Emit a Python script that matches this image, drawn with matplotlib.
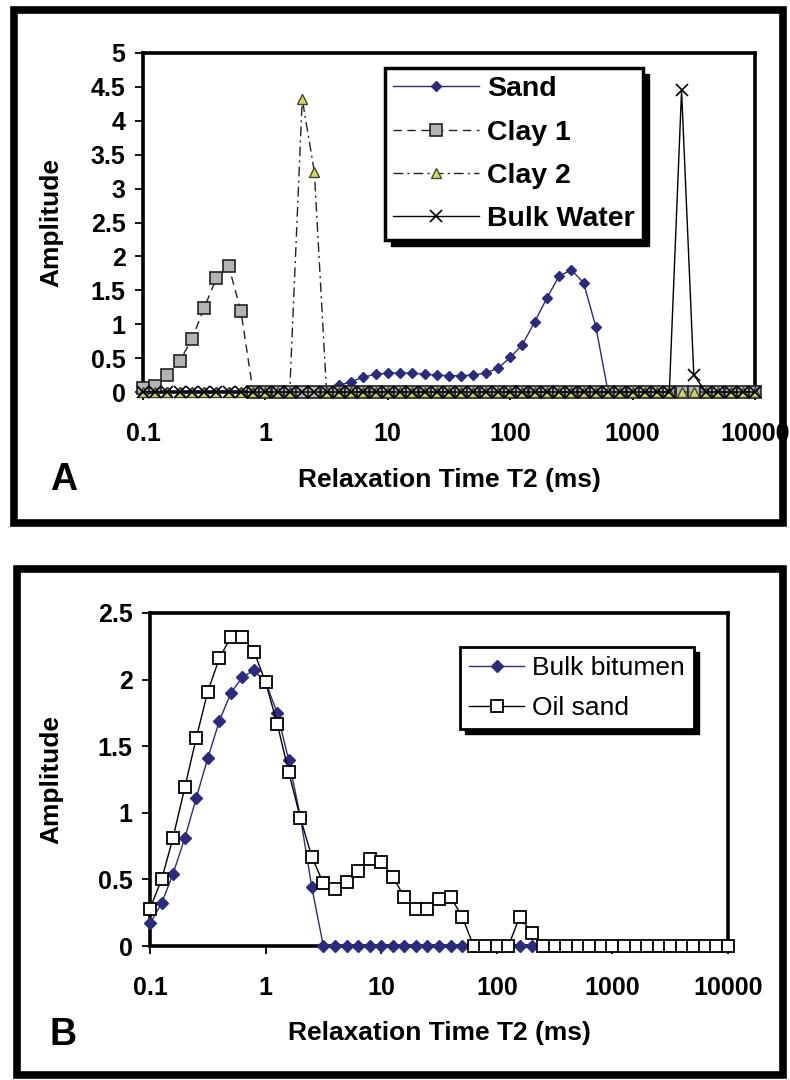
import matplotlib
matplotlib.use('Agg')
import matplotlib.pyplot as plt
from matplotlib.patches import Rectangle
from matplotlib.ticker import FixedLocator, NullLocator
from matplotlib.transforms import IdentityTransform

plt.rcParams['font.family'] = ['Liberation Sans', 'DejaVu Sans']

# ---------------- data ----------------
t2_ms = [0.1, 0.126, 0.158, 0.2, 0.251, 0.316, 0.398, 0.501, 0.631, 0.794,
         1.0, 1.26, 1.58, 2.0, 2.51, 3.16, 3.98, 5.01, 6.31, 7.94,
         10, 12.6, 15.8, 20, 25.1, 31.6, 39.8, 50.1, 63.1, 79.4,
         100, 126, 158, 200, 251, 316, 398, 501, 631, 794,
         1000, 1259, 1585, 1995, 2512, 3162, 3981, 5012, 6310, 7943, 10000]

sand = [0, 0, 0, 0, 0, 0, 0, 0, 0, 0,
        0, 0, 0, 0, 0, 0, 0.10, 0.15, 0.22, 0.26,
        0.28, 0.28, 0.28, 0.26, 0.25, 0.24, 0.24, 0.25, 0.28, 0.35,
        0.51, 0.70, 1.03, 1.39, 1.71, 1.80, 1.61, 0.96, 0, 0,
        0, 0, 0, 0, 0, 0, 0, 0, 0, 0, 0]
clay1 = [0.06, 0.09, 0.25, 0.46, 0.78, 1.24, 1.68, 1.86, 1.19, 0,
         0, 0, 0, 0, 0, 0, 0, 0, 0, 0,
         0, 0, 0, 0, 0, 0, 0, 0, 0, 0,
         0, 0, 0, 0, 0, 0, 0, 0, 0, 0,
         0, 0, 0, 0, 0, 0, 0, 0, 0, 0, 0]
clay2 = [0, 0, 0, 0, 0, 0, 0, 0, 0, 0,
         0, 0, 0, 4.32, 3.25, 0, 0, 0, 0, 0,
         0, 0, 0, 0, 0, 0, 0, 0, 0, 0,
         0, 0, 0, 0, 0, 0, 0, 0, 0, 0,
         0, 0, 0, 0, 0, 0, 0, 0, 0, 0, 0]
bulk_water = [0, 0, 0, 0, 0, 0, 0, 0, 0, 0,
              0, 0, 0, 0, 0, 0, 0, 0, 0, 0,
              0, 0, 0, 0, 0, 0, 0, 0, 0, 0,
              0, 0, 0, 0, 0, 0, 0, 0, 0, 0,
              0, 0, 0, 0, 4.45, 0.25, 0, 0, 0, 0, 0]

bulk_bitumen = [0.17, 0.32, 0.54, 0.81, 1.11, 1.41, 1.69, 1.90, 2.02, 2.07,
                1.98, 1.75, 1.40, 0.97, 0.44, 0, 0, 0, 0, 0,
                0, 0, 0, 0, 0, 0, 0, 0, 0, 0,
                0, 0, 0, 0, 0, 0, 0, 0, 0, 0,
                0, 0, 0, 0, 0, 0, 0, 0, 0, 0, 0]
oil_sand = [0.28, 0.50, 0.81, 1.19, 1.56, 1.91, 2.16, 2.32, 2.32, 2.21,
            1.98, 1.67, 1.31, 0.96, 0.67, 0.47, 0.43, 0.48, 0.56, 0.65,
            0.63, 0.52, 0.37, 0.28, 0.28, 0.35, 0.37, 0.22, 0, 0,
            0, 0, 0.22, 0.10, 0, 0, 0, 0, 0, 0,
            0, 0, 0, 0, 0, 0, 0, 0, 0, 0, 0]

x_ticks = [0.1, 1, 10, 100, 1000, 10000]
x_tick_labels = ['0.1', '1', '10', '100', '1000', '10000']
yA_ticks = [0, 0.5, 1, 1.5, 2, 2.5, 3, 3.5, 4, 4.5, 5]
yA_tick_labels = ['0', '0.5', '1', '1.5', '2', '2.5', '3', '3.5', '4', '4.5', '5']
yB_ticks = [0, 0.5, 1, 1.5, 2, 2.5]
yB_tick_labels = ['0', '0.5', '1', '1.5', '2', '2.5']

x_label = 'Relaxation Time T2 (ms)'
y_label = 'Amplitude'

# ---------------- figure ----------------
W, H = 790, 1080
fig = plt.figure(figsize=(W / 100, H / 100), dpi=100)
fig.patch.set_facecolor('white')


def fx(px):
    return px / W


def fy(py):
    return 1 - py / H


NAVY = '#2c2a7c'


def style_axes(ax, yticks, ylabels, ymax):
    ax.set_xscale('log')
    ax.set_xlim(0.1, 10000)
    ax.set_ylim(0, ymax)
    ax.xaxis.set_major_locator(FixedLocator(x_ticks))
    ax.xaxis.set_minor_locator(NullLocator())
    ax.set_xticks(x_ticks, x_tick_labels, fontweight='bold')
    ax.set_yticks(yticks, ylabels, fontweight='bold')
    for s in ax.spines.values():
        s.set_linewidth(2.6)
        s.set_zorder(2.5)
    ax.tick_params(axis='both', direction='out', length=5.5, width=1.3,
                   labelsize=18, colors='black')
    ax.tick_params(axis='x', pad=16)
    ax.tick_params(axis='y', pad=7)
    ax.set_xlabel(x_label, fontsize=19, fontweight='bold')
    ax.set_ylabel(y_label, fontsize=19, fontweight='bold')


def add_shadow(ax, leg, off=6):
    fig.canvas.draw()
    bb = leg.get_window_extent()
    rect = Rectangle((bb.x0 + off, bb.y0 - off), bb.width, bb.height,
                     transform=IdentityTransform(), facecolor='black',
                     edgecolor='black', zorder=4.9, clip_on=False)
    ax.add_artist(rect)


# ---------------- panel A ----------------
axA = fig.add_axes([fx(143), fy(392), fx(755) - fx(143), fy(53) - fy(392)])
axA.plot(t2_ms, sand, color=NAVY, lw=1.0, marker='D', markersize=5.5,
         markerfacecolor=NAVY, markeredgecolor=NAVY, label='Sand', clip_on=False, zorder=3)
axA.plot(t2_ms, clay1, color='#222222', lw=1.0, ls=(0, (6, 4)), marker='s', markersize=8,
         markerfacecolor='#b3b3b3', markeredgecolor='#222222', markeredgewidth=1.2,
         label='Clay 1', clip_on=False, zorder=3)
axA.plot(t2_ms, clay2, color='#222222', lw=1.0, ls=(0, (7, 3, 1.5, 3)), marker='^', markersize=7.5,
         markerfacecolor='#d2dc4a', markeredgecolor='#444444', markeredgewidth=1.0,
         label='Clay 2', clip_on=False, zorder=3)
axA.plot(t2_ms, bulk_water, color='black', lw=1.0, marker='x', markersize=8,
         markeredgewidth=1.2, label='Bulk Water', clip_on=False, zorder=3)
style_axes(axA, yA_ticks, yA_tick_labels, 5)
axA.xaxis.set_label_coords(0.5, -0.225)
axA.yaxis.set_label_coords(-0.13, 0.5)

legA = axA.legend(loc='upper left', bbox_to_anchor=(0.395, 0.956), borderaxespad=0,
                  prop={'family': ['Liberation Sans'], 'weight': 'bold', 'size': 20.5},
                  handlelength=3.0, handletextpad=0.3, borderpad=0.3, labelspacing=0.6,
                  fancybox=False, edgecolor='black', framealpha=1, numpoints=1)
legA.get_frame().set_linewidth(2.5)

# ---------------- panel B ----------------
axB = fig.add_axes([fx(150), fy(946), fx(728) - fx(150), fy(613) - fy(946)])
axB.plot(t2_ms, bulk_bitumen, color=NAVY, lw=1.0, marker='D', markersize=6,
         markerfacecolor=NAVY, markeredgecolor=NAVY, label='Bulk bitumen', clip_on=False, zorder=3)
axB.plot(t2_ms, oil_sand, color='black', lw=1.0, marker='s', markersize=9,
         markerfacecolor='white', markeredgecolor='black', markeredgewidth=1.3,
         label='Oil sand', clip_on=False, zorder=3)
style_axes(axB, yB_ticks, yB_tick_labels, 2.5)
axB.xaxis.set_label_coords(0.5, -0.225)
axB.yaxis.set_label_coords(-0.15, 0.5)

legB = axB.legend(loc='upper left', bbox_to_anchor=(0.536, 0.898), borderaxespad=0,
                  prop={'family': ['Liberation Sans'], 'size': 19},
                  handlelength=2.1, handletextpad=0.3, borderpad=0.35, labelspacing=0.6,
                  fancybox=False, edgecolor='black', framealpha=1, numpoints=1)
legB.get_frame().set_linewidth(2.0)

# panel letters
fig.text(fx(50), fy(490), 'A', fontsize=27, fontweight='bold', ha='left', va='baseline')
fig.text(fx(50), fy(1045), 'B', fontsize=27, fontweight='bold', ha='left', va='baseline')

# outer panel frames
for (l, t, r, b) in [(14, 10, 783, 523), (17, 569, 783, 1075)]:
    fig.add_artist(Rectangle((fx(l), fy(b)), fx(r) - fx(l), fy(t) - fy(b),
                             transform=fig.transFigure, fill=False, lw=5.5,
                             edgecolor='black', zorder=10))

add_shadow(axA, legA, 6)
add_shadow(axB, legB, 5)

fig.savefig('out.png', dpi=100, facecolor='white')
